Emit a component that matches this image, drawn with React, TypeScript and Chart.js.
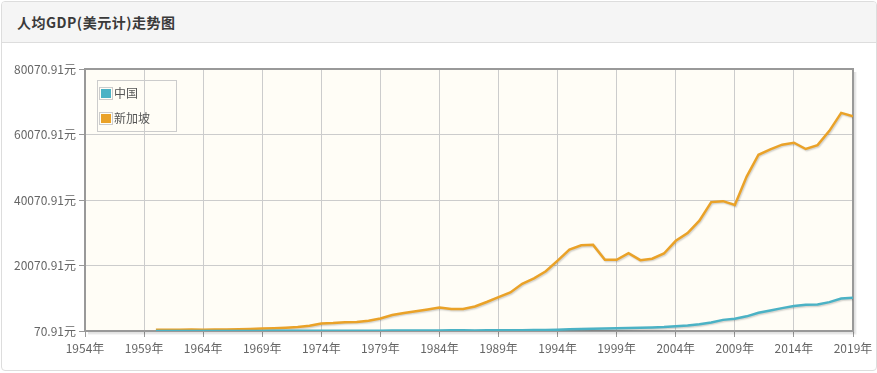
import React, { useEffect, useRef } from "react";
import { Chart, registerables } from "chart.js";

Chart.register(...registerables);

const years = [
  1960, 1961, 1962, 1963, 1964, 1965, 1966, 1967, 1968, 1969,
  1970, 1971, 1972, 1973, 1974, 1975, 1976, 1977, 1978, 1979,
  1980, 1981, 1982, 1983, 1984, 1985, 1986, 1987, 1988, 1989,
  1990, 1991, 1992, 1993, 1994, 1995, 1996, 1997, 1998, 1999,
  2000, 2001, 2002, 2003, 2004, 2005, 2006, 2007, 2008, 2009,
  2010, 2011, 2012, 2013, 2014, 2015, 2016, 2017, 2018, 2019,
];

const chinaGdp = [
  90, 76, 71, 75, 85, 98, 104, 97, 91, 100,
  113, 119, 132, 157, 160, 178, 165, 185, 156, 184,
  195, 197, 203, 225, 250, 294, 282, 252, 284, 311,
  318, 333, 366, 377, 473, 610, 709, 782, 829, 873,
  959, 1053, 1149, 1289, 1509, 1753, 2099, 2694, 3468, 3832,
  4550, 5618, 6317, 7051, 7679, 8067, 8148, 8879, 9977, 10217,
];

const singaporeGdp = [
  428, 449, 472, 511, 485, 516, 566, 626, 708, 810,
  925, 1071, 1264, 1685, 2341, 2490, 2770, 2846, 3194, 3901,
  4928, 5596, 6077, 6633, 7228, 6754, 6800, 7539, 8917, 10394,
  11862, 14502, 16136, 18302, 21578, 24915, 26233, 26376, 21829, 21796,
  23852, 21700, 22160, 23730, 27609, 29961, 33769, 39432, 39721, 38578,
  47237, 53891, 55546, 56967, 57563, 55647, 56828, 61176, 66679, 65641,
];

const seriesNames = ["中国", "新加坡"];
const seriesColors = ["#4bb2c5", "#EAA228"];
const xTicks = [1954, 1959, 1964, 1969, 1974, 1979, 1984, 1989, 1994, 1999, 2004, 2009, 2014, 2019];
const yTicks = [70.91, 20070.91, 40070.91, 60070.91, 80070.91];
const titleText = "人均GDP(美元计)走势图";

const FONT = "'Noto Sans CJK SC', 'Noto Sans', sans-serif";

const plotDecor = {
  id: "plotDecor",
  beforeDraw(chart: any) {
    const { ctx, chartArea } = chart;
    const { left, top, right, bottom } = chartArea;
    ctx.save();
    ctx.fillStyle = "#fffdf6";
    ctx.fillRect(left, top, right - left, bottom - top);
    ctx.restore();
  },
  beforeDatasetsDraw(chart: any) {
    const { ctx, chartArea } = chart;
    const { left, top, right, bottom } = chartArea;
    ctx.save();
    for (let i = 1; i <= 2; i++) {
      ctx.strokeStyle = "rgba(0,0,0,0.08)";
      ctx.lineWidth = 2;
      ctx.beginPath();
      ctx.moveTo(right + i * 1.2, top + 3);
      ctx.lineTo(right + i * 1.2, bottom + i * 1.2);
      ctx.lineTo(left + 3, bottom + i * 1.2);
      ctx.stroke();
    }
    ctx.strokeStyle = "#999999";
    ctx.lineWidth = 2;
    ctx.strokeRect(left, top, right - left, bottom - top);
    ctx.restore();
  },
  beforeDatasetDraw(chart: any) {
    const ctx = chart.ctx;
    ctx.save();
    ctx.shadowColor = "rgba(0,0,0,0.18)";
    ctx.shadowBlur = 1.5;
    ctx.shadowOffsetX = 1;
    ctx.shadowOffsetY = 1.2;
  },
  afterDatasetDraw(chart: any) {
    chart.ctx.restore();
  },
};

export default function App() {
  const canvasRef = useRef<HTMLCanvasElement | null>(null);

  useEffect(() => {
    if (!canvasRef.current) return;
    const seriesValues = [chinaGdp, singaporeGdp];
    const chart = new Chart(canvasRef.current, {
      type: "line",
      data: {
        datasets: seriesValues.map((vals, i) => ({
          label: seriesNames[i],
          data: years.map((yr, k) => ({ x: yr, y: vals[k] })),
          borderColor: seriesColors[i],
          backgroundColor: seriesColors[i],
          borderWidth: 2.5,
          pointRadius: 0,
          tension: 0,
          fill: false,
        })),
      },
      options: {
        responsive: false,
        animation: false,
        layout: { padding: { top: 69, right: 24, bottom: 0, left: 0 } },
        plugins: {
          legend: { display: false },
          tooltip: { enabled: false },
          title: { display: false },
        },
        scales: {
          x: {
            type: "linear",
            min: 1954,
            max: 2019,
            afterBuildTicks: (s: any) => {
              s.ticks = xTicks.map((v) => ({ value: v }));
            },
            afterFit: (s: any) => {
              s.height = 42;
            },
            ticks: {
              autoSkip: false,
              maxRotation: 0,
              padding: 4,
              color: "#666666",
              font: { family: FONT, size: 12 },
              callback: (v: any) => `${v}年`,
            },
            grid: { color: "#cccccc", tickColor: "#999999", tickLength: 6, lineWidth: 1 },
            border: { display: false },
          },
          y: {
            type: "linear",
            min: yTicks[0],
            max: yTicks[yTicks.length - 1],
            afterBuildTicks: (s: any) => {
              s.ticks = yTicks.map((v) => ({ value: v }));
            },
            afterFit: (s: any) => {
              s.width = 85;
            },
            ticks: {
              padding: 3,
              color: "#666666",
              font: { family: FONT, size: 12 },
              callback: (v: any) => `${Number(v).toFixed(2)}元`,
            },
            grid: { color: "#cccccc", tickColor: "#999999", tickLength: 6, lineWidth: 1 },
            border: { display: false },
          },
        },
      },
      plugins: [plotDecor],
    });
    return () => chart.destroy();
  }, []);

  return (
    <div style={{ position: "absolute", left: 0, top: 0, width: 877, height: 373, background: "#fff" }}>
      <div
        style={{
          position: "absolute",
          left: 1,
          top: 1,
          width: 876,
          height: 370,
          boxSizing: "border-box",
          border: "1px solid #dddddd",
          borderRadius: 4,
          overflow: "hidden",
        }}
      >
        <div
          style={{
            height: 41,
            boxSizing: "border-box",
            background: "#f5f5f5",
            borderBottom: "1px solid #dddddd",
            paddingLeft: 15,
            fontFamily: FONT,
            fontWeight: "bold",
            fontSize: 14,
            lineHeight: "40px",
            color: "#3a3a3a",
            letterSpacing: 0.5,
          }}
        >
          {titleText}
        </div>
      </div>
      <canvas
        ref={canvasRef}
        width={877}
        height={373}
        style={{ position: "absolute", left: 0, top: 0, width: 877, height: 373 }}
      />
      <div
        style={{
          position: "absolute",
          left: 97,
          top: 80,
          width: 80,
          height: 52,
          boxSizing: "border-box",
          border: "1px solid #cccccc",
          fontFamily: FONT,
          fontSize: 12,
          color: "#555555",
        }}
      >
        {seriesNames.map((name, i) => (
          <div key={name} style={{ position: "absolute", left: 1, top: 5 + i * 25, height: 14, display: "flex", alignItems: "center" }}>
            <div style={{ width: 14, height: 13, boxSizing: "border-box", border: "1px solid #cccccc", padding: 1 }}>
              <div style={{ width: "100%", height: "100%", background: seriesColors[i] }} />
            </div>
            <span style={{ marginLeft: 1, lineHeight: "14px" }}>{name}</span>
          </div>
        ))}
      </div>
    </div>
  );
}
